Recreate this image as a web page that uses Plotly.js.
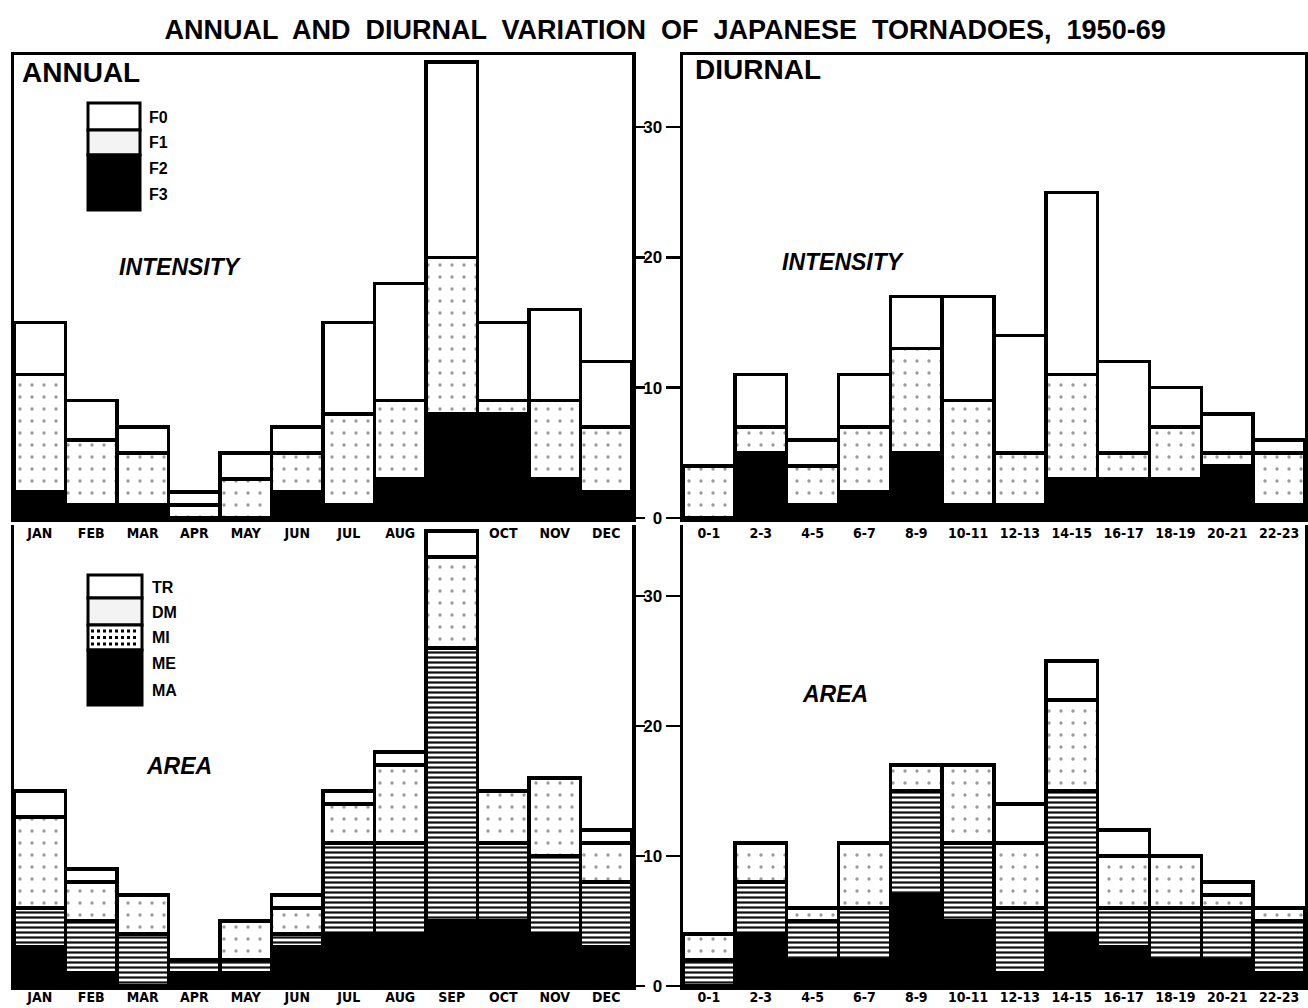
<!DOCTYPE html>
<html><head><meta charset="utf-8">
<script src="https://cdn.plot.ly/plotly-3.0.1.min.js"></script>
<style>body{margin:0;background:#fff}#chart{width:1308px;height:1008px}</style>
</head><body><div id="chart"></div>
<script>
// ---------- data ----------
const months = ['JAN','FEB','MAR','APR','MAY','JUN','JUL','AUG','SEP','OCT','NOV','DEC'];
// top row: the SEP label is hidden behind the tall September bar of the lower panel
const monthLabelsTop = ['JAN','FEB','MAR','APR','MAY','JUN','JUL','AUG','','OCT','NOV','DEC'];
const hours  = ['0-1','2-3','4-5','6-7','8-9','10-11','12-13','14-15','16-17','18-19','20-21','22-23'];
const yTicks = [0,10,20,30];

// Annual, intensity (F-scale)
const annF3 = [0,0,0,0,0,0,0,0,0,0,0,0];
const annF2 = [2,1,1,0,0,2,1,3,8,8,3,2];
const annF1 = [9,5,4,1,3,3,7,6,12,1,6,5];
const annF0 = [4,3,2,1,2,2,7,9,15,6,7,5];

// Diurnal, intensity
const diuF3 = [0,0,0,0,0,0,0,0,0,0,0,0];
const diuF2 = [0,5,1,2,5,1,1,3,3,3,4,1];
const diuF1 = [4,2,3,5,8,8,4,8,2,4,1,4];
const diuF0 = [0,4,2,4,4,8,9,14,7,3,3,1];

// Annual, area
const annMA = [0,0,0,0,0,0,0,0,0,0,0,0];
const annME = [3,1,0,1,1,3,4,4,5,5,4,3];
const annMI = [3,4,4,1,1,1,7,7,21,6,6,5];
const annDM = [7,3,3,0,3,2,3,6,7,4,6,3];
const annTR = [2,1,0,0,0,1,1,1,2,0,0,1];

// Diurnal, area
const diuMA = [0,0,0,0,0,0,0,0,0,0,0,0];
const diuME = [0,4,2,2,7,5,1,4,3,2,2,1];
const diuMI = [2,4,3,4,8,6,5,11,3,4,4,4];
const diuDM = [2,3,1,5,2,6,5,7,4,4,1,1];
const diuTR = [0,0,0,0,0,0,3,3,2,0,1,0];

// ---------- styles ----------
const W = 1308, H = 1008;
const PX = v => v / W, PY = v => 1 - v / H;
const FONT = 'Liberation Sans, Arial, Helvetica, sans-serif';
const NARROW = 'Liberation Sans Narrow, DejaVu Sans Condensed, Liberation Sans, sans-serif';
const outline = {color:'black', width:3.5};
const styles = {
  black: {color:'black', line:outline},
  white: {color:'white', line:outline},
  dots:  {color:'white', line:outline, pattern:{shape:'.', fgcolor:'#9a9a9a', bgcolor:'white', size:12, solidity:0.06}},
  dash:  {color:'white', line:outline, pattern:{shape:'-', fgcolor:'#111', bgcolor:'white', size:5, solidity:0.45}}
};

function bar(name, cats, vals, st, xa, ya){
  return {type:'bar', name:name, x:cats, y:vals, xaxis:xa, yaxis:ya,
          marker:JSON.parse(JSON.stringify(styles[st])), hoverinfo:'x+y+name'};
}

const traces = [
  bar('F3', months, annF3, 'black', 'x', 'y'),
  bar('F2', months, annF2, 'black', 'x', 'y'),
  bar('F1', months, annF1, 'dots',  'x', 'y'),
  bar('F0', months, annF0, 'white', 'x', 'y'),

  bar('F3', hours, diuF3, 'black', 'x2', 'y2'),
  bar('F2', hours, diuF2, 'black', 'x2', 'y2'),
  bar('F1', hours, diuF1, 'dots',  'x2', 'y2'),
  bar('F0', hours, diuF0, 'white', 'x2', 'y2'),

  bar('MA', months, annMA, 'black', 'x3', 'y3'),
  bar('ME', months, annME, 'black', 'x3', 'y3'),
  bar('MI', months, annMI, 'dash',  'x3', 'y3'),
  bar('DM', months, annDM, 'dots',  'x3', 'y3'),
  bar('TR', months, annTR, 'white', 'x3', 'y3'),

  bar('MA', hours, diuMA, 'black', 'x4', 'y4'),
  bar('ME', hours, diuME, 'black', 'x4', 'y4'),
  bar('MI', hours, diuMI, 'dash',  'x4', 'y4'),
  bar('DM', hours, diuDM, 'dots',  'x4', 'y4'),
  bar('TR', hours, diuTR, 'white', 'x4', 'y4')
];

const leftDom  = [PX(14), PX(632)];
const rightDom = [PX(683), PX(1305)];
const topDom   = [PY(518), PY(55)];
const botDom   = [PY(986), PY(525)];
const topRange = [0, (518-55)/13.03];
const botRange = [0, (986-525)/13.0];

function xax(dom, anchor, cats, labels, mirror, standoff){
  return {domain:dom, anchor:anchor, type:'category', categoryorder:'array', categoryarray:cats,
          tickmode:'array', tickvals:cats, ticktext:labels,
          range:[-0.5, cats.length-0.5], showline:true, linewidth:3.5, linecolor:'black', mirror:mirror,
          ticks:'', showgrid:false, zeroline:false, ticklabelstandoff:standoff,
          tickfont:{family:NARROW, size:14, color:'black', weight:'bold'}, fixedrange:true};
}
function yax(dom, anchor, range, side, labels){
  return {domain:dom, anchor:anchor, range:range, side:side, showline:true, linewidth:3.5, linecolor:'black',
          mirror:true, ticks:'outside', ticklen: labels ? 14 : 9, tickwidth:2.5, tickcolor:'black',
          tickmode:'array', tickvals:yTicks, showticklabels:labels, showgrid:false, zeroline:false,
          tickfont:{family:FONT, size:17, color:'black', weight:'bold'}, fixedrange:true};
}

function txt(text, x, y, size, opts){
  return Object.assign({text:text, xref:'paper', yref:'paper', x:PX(x), y:PY(y), showarrow:false,
    xanchor:'left', yanchor:'middle',
    font:{family:FONT, size:size, color:'black', weight:'bold'}}, opts||{});
}
function italic(text, x, y, size){
  return txt(text, x, y, size, {xanchor:'center', font:{family:FONT, size:size, color:'black', weight:'bold', style:'italic'}});
}

function rect(x0,y0,x1,y1,fill){
  return {type:'rect', xref:'paper', yref:'paper', x0:PX(x0), x1:PX(x1), y0:PY(y1), y1:PY(y0),
          fillcolor:fill, line:{color:'black', width:3}, layer:'above'};
}
function hline(x0,x1,y){
  return {type:'line', xref:'paper', yref:'paper', x0:PX(x0), x1:PX(x1), y0:PY(y), y1:PY(y),
          line:{color:'black', width:3, dash:'dot'}, layer:'above'};
}

const shapes = [
  rect(88,103,140,130,'white'),
  rect(88,130,140,155,'#f3f3f3'),
  rect(88,155,140,210,'black'),
  rect(88,575,142,598,'white'),
  rect(88,598,142,625,'#f3f3f3'),
  rect(88,625,142,650,'white'),
  hline(91,139,631), hline(91,139,637.5), hline(91,139,644),
  rect(88,650,142,705,'black')
];

const annotations = [
  txt('ANNUAL', 20, 73, 28),
  txt('DIURNAL', 693, 70, 28),
  italic('INTENSITY', 180, 267, 23),
  italic('INTENSITY', 843, 262, 23),
  italic('AREA', 179, 766, 23),
  italic('AREA', 835, 694, 23),
  txt('F0', 147, 117, 16), txt('F1', 147, 143, 16), txt('F2', 147, 169, 16), txt('F3', 147, 195, 16),
  txt('TR', 150, 587, 16), txt('DM', 150, 612, 16), txt('MI', 150, 637, 16), txt('ME', 150, 663, 16), txt('MA', 150, 690, 16)
];

const layout = {
  width:W, height:H, margin:{l:0, r:0, t:0, b:0},
  paper_bgcolor:'white', plot_bgcolor:'white',
  barmode:'stack', bargap:0, showlegend:false,
  title:{text:'ANNUAL  AND  DIURNAL  VARIATION  OF  JAPANESE  TORNADOES,  1950-69',
         x:0.5085, xanchor:'center', y:PY(30), yanchor:'middle',
         font:{family:FONT, size:27, color:'black', weight:'bold'}},
  xaxis: xax(leftDom,  'y',  months, monthLabelsTop, true, 0),
  yaxis: yax(topDom,   'x',  topRange, 'right', false),
  xaxis2:xax(rightDom, 'y2', hours, hours, true, 0),
  yaxis2:yax(topDom,   'x2', topRange, 'left', true),
  xaxis3:xax(leftDom,  'y3', months, months, false, -4),
  yaxis3:yax(botDom,   'x3', botRange, 'right', false),
  xaxis4:xax(rightDom, 'y4', hours, hours, false, -4),
  yaxis4:yax(botDom,   'x4', botRange, 'left', true),
  shapes:shapes, annotations:annotations
};

Plotly.newPlot('chart', traces, layout, {staticPlot:true, displayModeBar:false});
</script></body></html>
